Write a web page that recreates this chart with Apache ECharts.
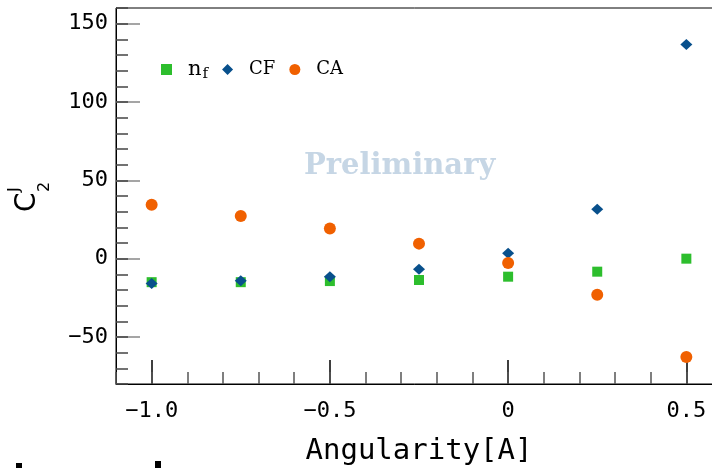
<!DOCTYPE html>
<html>
<head>
<meta charset="utf-8">
<script src="https://cdn.jsdelivr.net/npm/echarts@6/dist/echarts.min.js"></script>
<style>html,body{margin:0;padding:0;background:#fff;}#c{width:712px;height:468px;}</style>
</head>
<body>
<div id="c"></div>
<script>
// ---- data ----
const xValues = [-1.0, -0.75, -0.5, -0.25, 0, 0.25, 0.5];
const nfValues = [-15, -15, -14.3, -13.6, -11.5, -8.3, 0];
const cfValues = [-15.8, -14.1, -11.5, -6.8, 3.5, 31.6, 136.7];
const caValues = [34.4, 27.3, 19.2, 9.6, -2.8, -23, -62.8];
const seriesNames = ['nf', 'CF', 'CA'];
const xMajorTicks = [-1.0, -0.5, 0, 0.5];
const xTickLabels = ['\u22121.0', '\u22120.5', '0', '0.5'];
const xMinorTicks = [-1.1, -1.0, -0.9, -0.8, -0.7, -0.6, -0.5, -0.4, -0.3, -0.2, -0.1, 0, 0.1, 0.2, 0.3, 0.4, 0.5, 0.6];
const yMajorTicks = [-50, 0, 50, 100, 150];
const yTickLabels = ['\u221250', '0', '50', '100', '150'];
const yMinorTicks = [-80, -70, -60, -50, -40, -30, -20, -10, 0, 10, 20, 30, 40, 50, 60, 70, 80, 90, 100, 110, 120, 130, 140, 150, 160];
const xName = 'Angularity[A]';
const watermark = 'Preliminary';

const pair = (ys) => xValues.map((x, i) => [x, ys[i]]);
const near = (a, b) => Math.abs(a - b) < 1e-6;
const labelFor = (ticks, labels) => (v) => {
  const i = ticks.findIndex(t => near(t, v));
  return i >= 0 ? labels[i] : '';
};

const chart = echarts.init(document.getElementById('c'), null, {renderer: 'canvas'});
const mono = 'DejaVu Sans Mono';
const xRange = {min: -1.1, max: 0.6};
const yRange = {min: -80, max: 160};

chart.setOption({
  animation: false,
  backgroundColor: '#fff',
  grid: {left: 116, top: 8, width: 606, bottom: 84, outerBoundsMode: 'none', containLabel: false, show: true, borderColor: '#000', borderWidth: 1, backgroundColor: 'transparent'},
  legend: {
    left: 156, top: 54,
    itemWidth: 11, itemHeight: 11, itemGap: 14,
    data: seriesNames,
    formatter: (n) => n === 'nf' ? '{n|n}{s|f}' : n,
    textStyle: {
      fontFamily: 'DejaVu Serif', fontSize: 18, color: '#000', padding: [0, 0, 0, 11],
      rich: {
        n: {fontFamily: 'DejaVu Serif', fontSize: 21, color: '#000'},
        s: {fontFamily: 'DejaVu Serif', fontSize: 15, color: '#000', verticalAlign: 'bottom', padding: [9, 0, 0, 1]}
      }
    }
  },
  xAxis: [
    {
      type: 'value', ...xRange, position: 'bottom',
      axisLine: {show: true, onZero: false, lineStyle: {color: '#000', width: 1}},
      axisTick: {show: true, inside: true, length: 24, customValues: xMajorTicks, lineStyle: {color: '#000', width: 1.5}},
      axisLabel: {show: true, customValues: xMajorTicks, formatter: labelFor(xMajorTicks, xTickLabels), fontFamily: mono, fontSize: 22, color: '#000', margin: 16},
      splitLine: {show: false},
      name: xName, nameLocation: 'middle', nameGap: 53,
      nameTextStyle: {fontFamily: mono, fontSize: 29, color: '#000'}
    },
    {
      type: 'value', ...xRange, position: 'bottom',
      axisLine: {show: false, onZero: false},
      axisTick: {show: true, inside: true, length: 12, customValues: xMinorTicks, lineStyle: {color: '#555', width: 1.5}},
      axisLabel: {show: false},
      splitLine: {show: false}
    }
  ],
  yAxis: [
    {
      type: 'value', ...yRange, position: 'left',
      axisLine: {show: true, onZero: false, lineStyle: {color: '#000', width: 1}},
      axisTick: {show: true, inside: true, length: 24, customValues: yMajorTicks, lineStyle: {color: '#888', width: 1.5}},
      axisLabel: {show: true, customValues: yMajorTicks, formatter: labelFor(yMajorTicks, yTickLabels), fontFamily: mono, fontSize: 22, color: '#000', margin: 8},
      splitLine: {show: false}
    },
    {
      type: 'value', ...yRange, position: 'left',
      axisLine: {show: false, onZero: false},
      axisTick: {show: true, inside: true, length: 12, customValues: yMinorTicks, lineStyle: {color: '#444', width: 1.5}},
      axisLabel: {show: false},
      splitLine: {show: false}
    }
  ],
  series: [
    {name: 'nf', type: 'scatter', symbol: 'rect', symbolSize: 10, itemStyle: {color: '#2dbe2d', opacity: 1}, data: pair(nfValues), z: 3},
    {name: 'CF', type: 'scatter', symbol: 'diamond', symbolSize: [12, 11], itemStyle: {color: '#08508c', opacity: 1}, data: pair(cfValues), z: 4},
    {name: 'CA', type: 'scatter', symbol: 'circle', symbolSize: 12, itemStyle: {color: '#f06000', opacity: 1}, data: pair(caValues), z: 5}
  ],
  graphic: [
    {type: 'text', left: 304, top: 152, style: {text: watermark, fontFamily: 'DejaVu Serif', fontWeight: 'bold', fontSize: 29, fill: '#c6d6e5'}, z: 1},
    {
      type: 'group', x: 0, y: 212, rotation: Math.PI / 2,
      children: [
        {type: 'text', x: 0, y: 28, style: {text: 'C', fontFamily: 'DejaVu Sans', fontSize: 28, fill: '#000', verticalAlign: 'middle'}},
        {type: 'text', x: 20, y: 15, style: {text: 'J', fontFamily: 'DejaVu Sans', fontSize: 16, fill: '#000', verticalAlign: 'middle'}},
        {type: 'text', x: 20, y: 45, style: {text: '2', fontFamily: 'DejaVu Sans', fontSize: 16, fill: '#000', verticalAlign: 'middle'}}
      ]
    },
    {type: 'rect', shape: {x: 16, y: 463, width: 6, height: 5}, style: {fill: '#000'}},
    {type: 'rect', shape: {x: 155, y: 461, width: 6, height: 7}, style: {fill: '#000'}}
  ]
});
</script>
</body>
</html>
